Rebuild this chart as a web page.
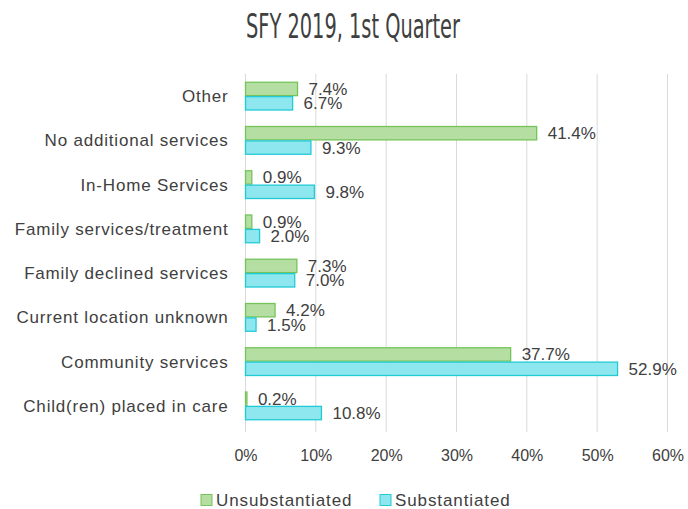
<!DOCTYPE html>
<html>
<head>
<meta charset="utf-8">
<script src="https://cdn.jsdelivr.net/npm/d3@7"></script>
<style>
  body { margin: 0; background: #fff; }
  svg { display: block; }
</style>
</head>
<body>
<div id="chart"></div>
<script>
const categories = [
  "Other",
  "No additional services",
  "In-Home Services",
  "Family services/treatment",
  "Family declined services",
  "Current location unknown",
  "Community services",
  "Child(ren) placed in care",
];
const unsubstantiated = [7.4, 41.4, 0.9, 0.9, 7.3, 4.2, 37.7, 0.2];
const substantiated = [6.7, 9.3, 9.8, 2.0, 7.0, 1.5, 52.9, 10.8];
const seriesNames = ["Unsubstantiated", "Substantiated"];
const xTicks = [0, 10, 20, 30, 40, 50, 60];

const size = { width: 688, height: 509 };
const margin = { top: 74, bottom: 81, left: 245.5, right: 20.5 };

const fills = { Unsubstantiated: "#b5dea2", Substantiated: "#8ee6ee" };
const strokes = { Unsubstantiated: "#74c45a", Substantiated: "#22cad6" };

const labelFont = "'Liberation Sans', Arial, sans-serif";
const textColor = "#404040";

const svg = d3
  .select("#chart")
  .append("svg")
  .attr("width", size.width)
  .attr("height", size.height);

// title
svg
  .append("text")
  .text("SFY 2019, 1st Quarter")
  .attr("x", 353)
  .attr("y", 38)
  .attr("text-anchor", "middle")
  .attr("font-family", "'Liberation Sans Narrow', 'DejaVu Sans Condensed', sans-serif")
  .attr("font-size", 33)
  .attr("textLength", 214)
  .attr("lengthAdjust", "spacingAndGlyphs")
  .attr("fill", textColor);

const x = d3
  .scaleLinear()
  .domain([0, 60])
  .range([margin.left, size.width - margin.right]);

const y = d3
  .scaleBand()
  .domain(categories)
  .range([margin.top, size.height - margin.bottom])
  .paddingInner(0.35)
  .paddingOuter(0.175);

const inner = d3
  .scaleBand()
  .domain(seriesNames)
  .range([0, y.bandwidth()]);

// grid lines + tick marks
const grid = svg.append("g");
xTicks.forEach((t) => {
  grid
    .append("line")
    .attr("x1", x(t))
    .attr("x2", x(t))
    .attr("y1", margin.top)
    .attr("y2", size.height - margin.bottom + 4)
    .attr("stroke", "#d9d9d9")
    .attr("stroke-width", 1);
});

const xAxis = svg
  .append("g")
  .attr("transform", `translate(0, ${size.height - margin.bottom})`)
  .call(
    d3
      .axisBottom(x)
      .tickValues(xTicks)
      .tickSize(0)
      .tickPadding(22)
      .tickFormat((d) => d + "%")
  );
xAxis.select(".domain").remove();
xAxis
  .selectAll("text")
  .attr("font-family", labelFont)
  .attr("font-size", 16)
  .attr("fill", textColor);

// category labels
svg
  .append("g")
  .selectAll("text")
  .data(categories)
  .enter()
  .append("text")
  .text((d) => d)
  .attr("x", margin.left - 17)
  .attr("y", (d) => y(d) + y.bandwidth() / 2)
  .attr("dy", "0.35em")
  .attr("text-anchor", "end")
  .attr("font-family", labelFont)
  .attr("font-size", 17)
  .attr("letter-spacing", 0.8)
  .attr("fill", textColor);

const rows = categories.map((c, i) => ({
  category: c,
  Unsubstantiated: unsubstantiated[i],
  Substantiated: substantiated[i],
}));

const groups = svg
  .append("g")
  .selectAll("g")
  .data(rows)
  .enter()
  .append("g")
  .attr("transform", (d) => `translate(0, ${y(d.category)})`);

groups
  .selectAll("rect")
  .data((d) => seriesNames.map((s) => ({ key: s, value: d[s] })))
  .enter()
  .append("rect")
  .attr("x", x(0))
  .attr("y", (d) => inner(d.key) + 0.5)
  .attr("width", (d) => x(d.value) - x(0))
  .attr("height", inner.bandwidth() - 1)
  .attr("fill", (d) => fills[d.key])
  .attr("stroke", (d) => strokes[d.key])
  .attr("stroke-width", 1.3);

groups
  .selectAll(".valueLabel")
  .data((d) => seriesNames.map((s) => ({ key: s, value: d[s] })))
  .enter()
  .append("text")
  .attr("class", "valueLabel")
  .text((d) => d.value.toFixed(1) + "%")
  .attr("x", (d) => x(d.value) + 11)
  .attr("y", (d) => inner(d.key) + inner.bandwidth() / 2)
  .attr("dy", "0.35em")
  .attr("font-family", labelFont)
  .attr("font-size", 17)
  .attr("fill", textColor);

// legend
const legendItems = [
  { key: "Unsubstantiated", x: 201 },
  { key: "Substantiated", x: 380 },
];
const legend = svg.append("g").attr("transform", "translate(0, 500)");
legendItems.forEach((l) => {
  legend
    .append("rect")
    .attr("x", l.x)
    .attr("y", -5.5)
    .attr("width", 11)
    .attr("height", 11)
    .attr("fill", fills[l.key])
    .attr("stroke", strokes[l.key]);
  legend
    .append("text")
    .text(l.key)
    .attr("x", l.x + 15)
    .attr("y", 0)
    .attr("dy", "0.35em")
    .attr("font-family", labelFont)
    .attr("font-size", 17)
    .attr("letter-spacing", 0.9)
    .attr("fill", textColor);
});
</script>
</body>
</html>
